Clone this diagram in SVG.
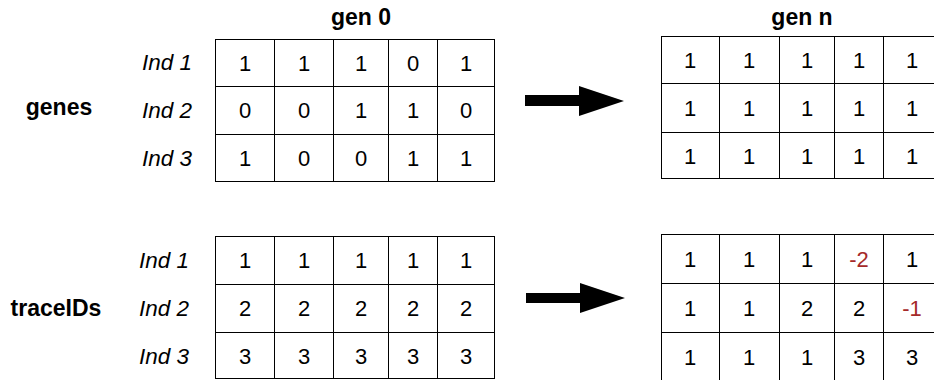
<svg xmlns="http://www.w3.org/2000/svg" width="934" height="380" viewBox="0 0 934 380">
  <style>
    .grid { fill: #ffffff; stroke: #000000; stroke-width: 1; }
    .gl { stroke: #000000; stroke-width: 1; fill: none; }
    .cell { font-family: "Liberation Sans", Arial, sans-serif; font-size: 22px; fill: #000000; text-anchor: middle; }
    .red { fill: #a52a2a; }
    .ind { font-family: "Liberation Sans", Arial, sans-serif; font-size: 22.5px; font-style: italic; fill: #000000; text-anchor: end; }
    .head { font-family: "Liberation Sans", Arial, sans-serif; font-size: 23px; font-weight: bold; fill: #000000; text-anchor: middle; }
    .arrow { fill: #000000; }
  </style>

  <!-- column headings -->
  <g id="title-gen0"><text class="head" x="361" y="25">gen 0</text></g>
  <g id="title-genn"><text class="head" x="802" y="25">gen n</text></g>

  <!-- row group labels -->
  <g id="label-genes"><text class="head" x="59" y="115">genes</text></g>
  <g id="label-traceids"><text class="head" x="56" y="316">traceIDs</text></g>

  <!-- individual labels, genes block -->
  <g id="ind-genes">
    <text class="ind" x="192" y="70">Ind 1</text>
    <text class="ind" x="192" y="118">Ind 2</text>
    <text class="ind" x="192" y="166">Ind 3</text>
  </g>

  <!-- individual labels, traceIDs block -->
  <g id="ind-traceids">
    <text class="ind" x="189" y="268">Ind 1</text>
    <text class="ind" x="189" y="316">Ind 2</text>
    <text class="ind" x="189" y="364">Ind 3</text>
  </g>

  <!-- genes, generation 0 -->
  <g id="genes-gen0">
    <rect class="grid" x="215.5" y="39.5" width="279" height="142"/>
    <path class="gl" d="M274.5 39.5V181.5M333.5 39.5V181.5M388.5 39.5V181.5M437.5 39.5V181.5M215.5 86.5H494.5M215.5 134.5H494.5"/>
    <text class="cell" x="245" y="71">1</text><text class="cell" x="304" y="71">1</text><text class="cell" x="361" y="71">1</text><text class="cell" x="413" y="71">0</text><text class="cell" x="466" y="71">1</text>
    <text class="cell" x="245" y="118">0</text><text class="cell" x="304" y="118">0</text><text class="cell" x="361" y="118">1</text><text class="cell" x="413" y="118">1</text><text class="cell" x="466" y="118">0</text>
    <text class="cell" x="245" y="166">1</text><text class="cell" x="304" y="166">0</text><text class="cell" x="361" y="166">0</text><text class="cell" x="413" y="166">1</text><text class="cell" x="466" y="166">1</text>
  </g>

  <!-- genes, generation n -->
  <g id="genes-genn">
    <rect class="grid" x="661.5" y="36.5" width="290" height="142"/>
    <path class="gl" d="M719.5 36.5V178.5M779.5 36.5V178.5M834.5 36.5V178.5M883.5 36.5V178.5M661.5 83.5H951.5M661.5 132.5H951.5"/>
    <text class="cell" x="690" y="68">1</text><text class="cell" x="749" y="68">1</text><text class="cell" x="807" y="68">1</text><text class="cell" x="859" y="68">1</text><text class="cell" x="912" y="68">1</text>
    <text class="cell" x="690" y="116">1</text><text class="cell" x="749" y="116">1</text><text class="cell" x="807" y="116">1</text><text class="cell" x="859" y="116">1</text><text class="cell" x="912" y="116">1</text>
    <text class="cell" x="690" y="164">1</text><text class="cell" x="749" y="164">1</text><text class="cell" x="807" y="164">1</text><text class="cell" x="859" y="164">1</text><text class="cell" x="912" y="164">1</text>
  </g>

  <!-- traceIDs, generation 0 -->
  <g id="trace-gen0">
    <rect class="grid" x="215.5" y="236.5" width="279" height="142"/>
    <path class="gl" d="M274.5 236.5V378.5M333.5 236.5V378.5M388.5 236.5V378.5M437.5 236.5V378.5M215.5 284.5H494.5M215.5 332.5H494.5"/>
    <text class="cell" x="245" y="268">1</text><text class="cell" x="304" y="268">1</text><text class="cell" x="361" y="268">1</text><text class="cell" x="413" y="268">1</text><text class="cell" x="466" y="268">1</text>
    <text class="cell" x="245" y="316">2</text><text class="cell" x="304" y="316">2</text><text class="cell" x="361" y="316">2</text><text class="cell" x="413" y="316">2</text><text class="cell" x="466" y="316">2</text>
    <text class="cell" x="245" y="364">3</text><text class="cell" x="304" y="364">3</text><text class="cell" x="361" y="364">3</text><text class="cell" x="413" y="364">3</text><text class="cell" x="466" y="364">3</text>
  </g>

  <!-- traceIDs, generation n -->
  <g id="trace-genn">
    <rect class="grid" x="661.5" y="234.5" width="290" height="150"/>
    <path class="gl" d="M719.5 234.5V384M779.5 234.5V384M834.5 234.5V384M883.5 234.5V384M661.5 283.5H951.5M661.5 332.5H951.5"/>
    <text class="cell" x="690" y="267">1</text><text class="cell" x="749" y="267">1</text><text class="cell" x="807" y="267">1</text><text class="cell red" x="859" y="267">-2</text><text class="cell" x="912" y="267">1</text>
    <text class="cell" x="690" y="316">1</text><text class="cell" x="749" y="316">1</text><text class="cell" x="807" y="316">2</text><text class="cell" x="859" y="316">2</text><text class="cell red" x="912" y="316">-1</text>
    <text class="cell" x="690" y="365">1</text><text class="cell" x="749" y="365">1</text><text class="cell" x="807" y="365">1</text><text class="cell" x="859" y="365">3</text><text class="cell" x="912" y="365">3</text>
  </g>

  <!-- connectors: block arrows from gen 0 to gen n -->
  <g id="connectors">
    <path class="arrow" d="M525 95H579V86L624 101L579 116V106H525Z"/>
    <path class="arrow" d="M526 293H580V283L625 298L580 313V303H526Z"/>
  </g>
</svg>
